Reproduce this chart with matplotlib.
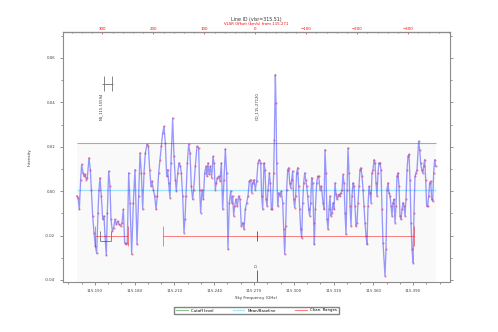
import numpy as np
import matplotlib
matplotlib.use("Agg")
import matplotlib.pyplot as plt
from matplotlib.lines import Line2D

# spectrum (sky frequency in GHz, intensity)
freq = [
    115.13616, 115.13717, 115.13818, 115.13918, 115.13994, 115.14094, 115.14170, 115.14245, 115.14346, 115.14421,
    115.14547, 115.14648, 115.14723, 115.14824, 115.14924, 115.15025, 115.15126, 115.15226, 115.15302, 115.15377,
    115.15478, 115.15579, 115.15679, 115.15755, 115.15855, 115.15931, 115.16031, 115.16132, 115.16207, 115.16308,
    115.16409, 115.16509, 115.16610, 115.16711, 115.16811, 115.16937, 115.17038, 115.17138, 115.17239, 115.17339,
    115.17440, 115.17541, 115.17641, 115.17767, 115.17893, 115.18019,
    115.18170, 115.18295, 115.18396, 115.18497, 115.18597, 115.18698, 115.18798, 115.18924, 115.19025, 115.19125,
    115.19226, 115.19302, 115.19402, 115.19503, 115.19603, 115.19704, 115.19805, 115.19905, 115.20006, 115.20107,
    115.20207, 115.20308, 115.20408, 115.20484, 115.20559, 115.20660, 115.20735, 115.20861, 115.20962, 115.21063,
    115.21138, 115.21239, 115.21339, 115.21440, 115.21515, 115.21616, 115.21717, 115.21792, 115.21868, 115.21968,
    115.22069, 115.22169, 115.22270, 115.22371, 115.22446, 115.22572, 115.22698,
    115.22823, 115.22899, 115.22974, 115.23075, 115.23176, 115.23276, 115.23377, 115.23452, 115.23528, 115.23603,
    115.23704, 115.23804, 115.23905, 115.23981, 115.24081, 115.24157, 115.24232, 115.24333, 115.24433, 115.24534,
    115.24635, 115.24735, 115.24836, 115.24936, 115.25037, 115.25138, 115.25238, 115.25314, 115.25389, 115.25465,
    115.25540, 115.25641, 115.25742, 115.25842, 115.25943, 115.26043, 115.26144, 115.26245, 115.26345, 115.26446,
    115.26547, 115.26647, 115.26748, 115.26823, 115.26899, 115.26999, 115.27100, 115.27201, 115.27301, 115.27402,
    115.27503, 115.27579, 115.27654, 115.27755, 115.27830, 115.27906, 115.27981, 115.28057, 115.28157, 115.28233,
    115.28308, 115.28384, 115.28484, 115.28535, 115.28610, 115.28661, 115.28711, 115.28786, 115.28862, 115.28962,
    115.29063, 115.29164, 115.29239, 115.29315, 115.29390, 115.29466, 115.29541, 115.29617, 115.29692, 115.29767,
    115.29843, 115.29918, 115.29994, 115.30069, 115.30145, 115.30220, 115.30296, 115.30371, 115.30447, 115.30522,
    115.30598, 115.30673, 115.30749, 115.30824, 115.30900, 115.30975, 115.31051, 115.31126, 115.31201, 115.31277,
    115.31352, 115.31428, 115.31503, 115.31554, 115.31629, 115.31730, 115.31805, 115.31881, 115.31981, 115.32082,
    115.32207, 115.32283, 115.32358, 115.32434, 115.32509, 115.32585, 115.32660, 115.32736, 115.32811, 115.32887,
    115.32962, 115.33038, 115.33113, 115.33189, 115.33264, 115.33340, 115.33415, 115.33490, 115.33566, 115.33641,
    115.33717, 115.33792, 115.33868, 115.33943, 115.34019, 115.34094, 115.34170, 115.34245, 115.34321, 115.34396,
    115.34472, 115.34547, 115.34623, 115.34698, 115.34773, 115.34849, 115.34924, 115.35000, 115.35075, 115.35151,
    115.35226, 115.35302, 115.35377, 115.35453, 115.35528, 115.35604, 115.35679, 115.35755, 115.35830, 115.35906,
    115.35981, 115.36056, 115.36132, 115.36207, 115.36283, 115.36358, 115.36434, 115.36509, 115.36585, 115.36660,
    115.36736,
    115.36886, 115.36962, 115.37037, 115.37113, 115.37188, 115.37264, 115.37339, 115.37415, 115.37490, 115.37566,
    115.37641, 115.37717, 115.37792, 115.37868, 115.37943, 115.38019, 115.38094, 115.38170, 115.38245, 115.38320,
    115.38396, 115.38471, 115.38547, 115.38622, 115.38698, 115.38773, 115.38849, 115.38924, 115.39000, 115.39075,
    115.39151, 115.39226, 115.39302, 115.39427, 115.39503, 115.39578, 115.39654, 115.39729, 115.39805, 115.39880,
    115.39956, 115.40031, 115.40107, 115.40182, 115.40258, 115.40333, 115.40409, 115.40484, 115.40560, 115.40635,
    115.40710,
]
intensity = [
    -0.0022, -0.0030, -0.0082, 0.0052, 0.0120, 0.0082, 0.0067, 0.0075, 0.0052, 0.0060,
    0.0150, 0.0097, 0.0007, -0.0112, -0.0187, -0.0247, -0.0280, -0.0097, 0.0007, 0.0060,
    -0.0022, -0.0127, -0.0112, -0.0202, -0.0289, -0.0097, 0.0090, 0.0022, -0.0127, -0.0180,
    -0.0165, -0.0127, -0.0150, -0.0135, -0.0150, -0.0157, -0.0142, -0.0082, -0.0232, -0.0240,
    -0.0232, 0.0082, -0.0052, -0.0284, -0.0052, 0.0097,
    -0.0240, -0.0022, 0.0172, 0.0082, -0.0082, 0.0082, 0.0172, 0.0210, 0.0202, 0.0097,
    0.0022, 0.0045, 0.0007, -0.0022, -0.0082, -0.0022, 0.0082, 0.0142, 0.0202, 0.0262,
    0.0292, 0.0217, 0.0067, 0.0097, 0.0037, -0.0030, 0.0127, 0.0329, 0.0157, 0.0052,
    0.0000, 0.0082, 0.0127, 0.0112, 0.0082, -0.0022, -0.0187, -0.0127, -0.0022, 0.0127,
    0.0210, 0.0172, 0.0022, -0.0037, 0.0007, 0.0112, 0.0202,
    0.0195, 0.0007, -0.0097, 0.0007, -0.0037, 0.0082, 0.0112, 0.0067, 0.0127, 0.0075,
    0.0112, 0.0060, 0.0157, 0.0127, 0.0007, 0.0037, 0.0060, 0.0067, 0.0045, 0.0127,
    -0.0082, 0.0052, 0.0190, 0.0082, -0.0262, -0.0052, 0.0000, -0.0052, -0.0022, -0.0112,
    -0.0067, -0.0037, -0.0067, -0.0022, -0.0037, -0.0157, -0.0142, -0.0172, -0.0082, -0.0052,
    -0.0022, 0.0045, 0.0052, -0.0007, 0.0037, 0.0052, 0.0007, 0.0045, 0.0127, 0.0142,
    0.0127, -0.0022, -0.0082, 0.0127, 0.0097, -0.0037, -0.0067, 0.0007, 0.0082, 0.0037,
    -0.0082, -0.0082, 0.0082, 0.0232, 0.0524, 0.0397, 0.0127, -0.0067, -0.0007, -0.0022,
    0.0000, -0.0052, -0.0172, -0.0284, -0.0157, 0.0007, 0.0097, 0.0105, 0.0037, 0.0015,
    0.0052, 0.0090, -0.0037, -0.0075, -0.0022, 0.0082, 0.0105, 0.0022, -0.0082, -0.0172,
    -0.0210, -0.0052, 0.0037, 0.0082, 0.0052, 0.0022, -0.0022, -0.0082, -0.0112, -0.0052,
    0.0060, 0.0037, -0.0142, -0.0240, -0.0082, 0.0037, 0.0067, 0.0067, 0.0007, 0.0022,
    -0.0052, -0.0082, 0.0187, 0.0082, -0.0127, -0.0172, -0.0082, -0.0022, -0.0112, -0.0097,
    -0.0052, -0.0082, 0.0037, -0.0015, -0.0037, -0.0022, -0.0015, -0.0022, -0.0007, 0.0007,
    0.0075, 0.0037, -0.0097, -0.0195, 0.0007, 0.0195, 0.0082, -0.0067, -0.0157, -0.0022,
    0.0037, 0.0022, -0.0067, -0.0157, -0.0142, -0.0052, 0.0022, 0.0097, 0.0105, 0.0067,
    0.0007, -0.0067, -0.0142, -0.0202, -0.0240, -0.0067, 0.0022, -0.0007, -0.0052, 0.0082,
    0.0097, 0.0142, 0.0127, 0.0037, -0.0022, 0.0082, 0.0127, 0.0127, 0.0097, -0.0082,
    -0.0232,
    -0.0382, -0.0262, 0.0007, 0.0037, -0.0007, -0.0022, -0.0067, -0.0112, -0.0052, -0.0037,
    -0.0142, -0.0067, 0.0067, 0.0082, 0.0022, -0.0112, -0.0127, -0.0082, -0.0052, -0.0067,
    -0.0112, -0.0037, 0.0097, 0.0157, 0.0165, 0.0052, -0.0142, -0.0262, -0.0322, -0.0097,
    0.0067, 0.0082, 0.0097, 0.0225, 0.0187, 0.0127, 0.0097, 0.0082, 0.0112, 0.0142,
    0.0052, -0.0067, -0.0067, -0.0022, 0.0037, 0.0045, -0.0037, -0.0045, 0.0082, 0.0142,
    0.0112,
]

cutoff = 0.0217
baseline = 0.0003
chan_ranges = [(115.1500, 115.1751), (115.2011, 115.3905)]
range_level = -0.0202

rest_freq = 115.271
vlsr = 315.51
c_kms = 299792.458

line_names = ["NS_115.15594", "CO_115.27120"]
line_label_freq = [115.1545, 115.2725]

f = np.array(freq)
y = np.array(intensity)

plt.rcParams['font.family'] = 'DejaVu Sans'
fig = plt.figure(figsize=(4.98, 3.32), dpi=100)
ax = fig.add_axes([0.1265, 0.1515, 0.7765, 0.753])

# faint shading under the cutoff over the data range
ax.fill_between([f[0], f[-1]], -0.0408, cutoff, color='0.975', zorder=0, lw=0)

ax.plot(f, y, color='#2020ff', alpha=0.45, lw=0.95, zorder=3, solid_joinstyle='round')
ax.plot(f, y, ls='none', marker='.', ms=1.0, color='#e03060', alpha=0.6, zorder=4)

ax.hlines(cutoff, f[0], f[-1], color='green', alpha=0.45, lw=0.8, zorder=2)
ax.hlines(baseline, f[0], f[-1], color='deepskyblue', alpha=0.35, lw=1.0, zorder=2)

for lo, hi in chan_ranges:
    ax.hlines(range_level, lo, hi, color='red', alpha=0.5, lw=0.7, zorder=2)
    ax.vlines([lo, hi], range_level - 0.0045, range_level + 0.0045, color='red', alpha=0.5, lw=0.7, zorder=2)

# line ID markers
gcol = '0.45'
ax.hlines(0.0483, 115.1551, 115.1638, color=gcol, lw=0.6)
ax.vlines([115.1568, 115.1628], 0.0451, 0.0517, color=gcol, lw=0.6)
ax.vlines([115.1538, 115.1624], -0.0180, -0.0224, color=gcol, lw=0.6)
ax.hlines(-0.0224, 115.1538, 115.1624, color=gcol, lw=0.6)
ax.vlines(115.2720, -0.0178, -0.0224, color='0.3', lw=0.6)
ax.vlines(115.2720, -0.0355, -0.0408, color='0.3', lw=0.6)
ax.text(115.2720, -0.0335, "ID", rotation=90, fontsize=2.6, ha='center', va='center', color='0.3')
for name, lf in zip(line_names, line_label_freq):
    ax.text(lf, 0.0322, name, rotation=90, fontsize=2.7, ha='center', va='bottom', color='0.2')

ax.set_xlim(115.12585, 115.41769)
ax.set_ylim(-0.0408, 0.0718)
ax.set_xticks(np.arange(115.150, 115.391, 0.030))
ax.set_xticklabels([f"{v:.3f}" for v in np.arange(115.150, 115.391, 0.030)])
ax.set_xticks(np.arange(115.130, 115.418, 0.010), minor=True)
ax.set_yticks([-0.04, -0.02, 0.0, 0.02, 0.04, 0.06])
ax.set_yticks(np.arange(-0.04, 0.071, 0.01), minor=True)
ax.yaxis.set_major_formatter(matplotlib.ticker.FormatStrFormatter('%.2f'))
ax.tick_params(labelsize=2.8, colors='0.25', length=2, width=0.4, right=True, which='both')
ax.tick_params(which='minor', length=1.2)
for s in ax.spines.values():
    s.set_color('0.55')
    s.set_linewidth(0.8)
ax.set_xlabel("Sky Frequency (GHz)", fontsize=2.9, color='0.2', labelpad=2)
ax.set_ylabel("Intensity", fontsize=2.9, color='0.2', labelpad=10)

top = ax.secondary_xaxis('top', functions=(lambda x: c_kms * (rest_freq - x) / rest_freq,
                                           lambda v: rest_freq * (1 - v / c_kms)))
top.set_xticks([300, 200, 100, 0, -100, -200, -300])
top.set_xticklabels(['300', '200', '100', '0', '\u2212100', '\u2212200', '\u2212300'])
top.set_xticks(np.arange(-380, 381, 20), minor=True)
top.tick_params(labelsize=2.8, colors='red', length=1.5, width=0.4, pad=0.6, direction='in')
top.tick_params(which='minor', length=1.0, colors='0.5', direction='in')
top.set_xlabel("VLSR Offset (km/s) from 115.271", fontsize=2.8, color='red', labelpad=1.0)
ax.set_title(f"Line ID (vlsr={vlsr})", fontsize=3.4, color='0.2', pad=8)

handles = [Line2D([], [], color='green', alpha=0.45, lw=0.8),
           Line2D([], [], color='deepskyblue', alpha=0.35, lw=1.0),
           Line2D([], [], color='red', alpha=0.5, lw=0.8)]
fig.legend(handles, ["Cutoff level", "Mean/Baseline", "Chan. Ranges"], loc='center',
           bbox_to_anchor=(256.5 / 498, 1 - 310.5 / 332), ncol=3, fontsize=2.8,
           frameon=True, fancybox=False, edgecolor='0.4',
           columnspacing=5, handlelength=3, borderpad=0.4)

fig.savefig("out.png", dpi=100)
